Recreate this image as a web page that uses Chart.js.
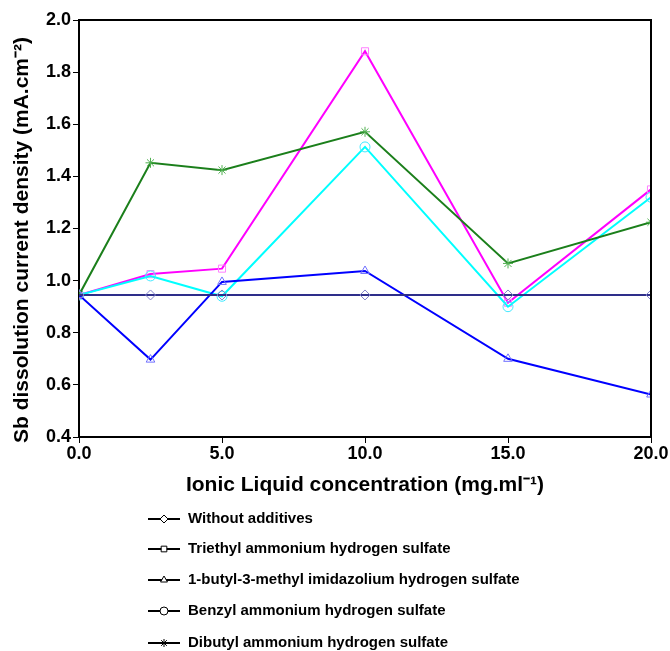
<!DOCTYPE html>
<html>
<head>
<meta charset="utf-8">
<script src="https://cdn.jsdelivr.net/npm/chart.js@4/dist/chart.umd.min.js"></script>
<style>
  html, body { margin: 0; padding: 0; background: #fff; }
  #wrap { width: 670px; height: 651px; position: relative; }
</style>
</head>
<body>
<div id="wrap"><canvas id="c"></canvas></div>
<script>
// concentration of ionic liquid (mg/ml)
const concentrations = [0, 2.5, 5, 10, 15, 20];

const withoutAdditives = [0.945, 0.945, 0.945, 0.945, 0.945, 0.945];
const triethyl = [0.945, 1.025, 1.046, 1.88, 0.915, 1.35];
const bmim = [0.945, 0.697, 0.995, 1.037, 0.70, 0.563];
const benzyl = [0.945, 1.018, 0.94, 1.513, 0.90, 1.32];
const dibutyl = [0.945, 1.452, 1.424, 1.571, 1.066, 1.224];

const seriesLabels = [
    'Without additives',
    'Triethyl ammonium hydrogen sulfate',
    '1-butyl-3-methyl imidazolium hydrogen sulfate',
    'Benzyl ammonium hydrogen sulfate',
    'Dibutyl ammonium hydrogen sulfate'
];
const xTicks = [0, 5, 10, 15, 20];
const yTitle = 'Sb dissolution current density (mA.cm\u207B\u00B2)';
const xTitle = 'Ionic Liquid concentration (mg.ml\u207B\u00B9)';

function pts(values) {
    return values.map((v, i) => ({ x: concentrations[i], y: v }));
}

function makeSet(label, values, line, marker, style, order) {
    return {
        label: label,
        data: pts(values),
        borderColor: line,
        borderWidth: 2,
        pointStyle: style,
        pointRadius: 5,
        pointBorderWidth: 1,
        pointBorderColor: marker,
        pointBackgroundColor: 'rgba(0,0,0,0)',
        tension: 0,
        order: order
    };
}

const datasets = [
    makeSet(seriesLabels[0], withoutAdditives, '#2e2e8a', '#8080c8', 'rectRot', 0),
    makeSet(seriesLabels[1], triethyl, '#ff00ff', '#ff80ff', 'rect', 4),
    makeSet(seriesLabels[2], bmim, '#0000ff', '#7070ff', 'triangle', 1),
    makeSet(seriesLabels[3], benzyl, '#00ffff', '#40e8ff', 'circle', 3),
    makeSet(seriesLabels[4], dibutyl, '#1b7f1b', '#50b050', 'star', 2)
];

// frame on top and right of the plot area, plus the y title
const framePlugin = {
    id: 'frame',
    afterDraw(chart) {
        const { ctx, chartArea: a } = chart;
        ctx.save();
        ctx.strokeStyle = '#000';
        ctx.lineWidth = 2;
        ctx.beginPath();
        ctx.moveTo(a.left, a.top);
        ctx.lineTo(a.right, a.top);
        ctx.lineTo(a.right, a.bottom);
        ctx.stroke();

        ctx.translate(22, 240);
        ctx.rotate(-Math.PI / 2);
        ctx.fillStyle = '#000';
        ctx.font = 'bold 21px "Liberation Sans", Arial, sans-serif';
        ctx.textAlign = 'center';
        ctx.textBaseline = 'middle';
        ctx.fillText(yTitle, 0, 0);
        ctx.restore();
    }
};

// legend listed below the chart, black symbols
const legendPlugin = {
    id: 'blackLegend',
    afterDraw(chart) {
        const ctx = chart.ctx;
        const rows = [519, 549, 580, 611, 643];
        ctx.save();
        chart.data.datasets.forEach((ds, i) => {
            const y = rows[i];
            ctx.strokeStyle = '#000';
            ctx.lineWidth = 2;
            ctx.beginPath();
            ctx.moveTo(148, y);
            ctx.lineTo(180, y);
            ctx.stroke();
            ctx.lineWidth = 1;
            ctx.fillStyle = '#fff';
            Chart.helpers.drawPoint(ctx, {
                pointStyle: ds.pointStyle,
                radius: 4,
                borderWidth: 1,
                rotation: 0
            }, 164, y);
            ctx.fillStyle = '#000';
            ctx.font = 'bold 15px "Liberation Sans", Arial, sans-serif';
            ctx.textBaseline = 'middle';
            ctx.textAlign = 'left';
            ctx.fillText(ds.label, 188, y);
        });
        ctx.restore();
    }
};

Chart.defaults.font.family = '"Liberation Sans", Arial, sans-serif';
Chart.defaults.color = '#000';

new Chart(document.getElementById('c'), {
    type: 'line',
    data: { datasets: datasets },
    options: {
        responsive: true,
        maintainAspectRatio: false,
        animation: false,
        layout: { padding: { top: 20, right: 19, left: 0, bottom: 152 } },
        plugins: {
            legend: { display: false },
            tooltip: { enabled: false }
        },
        scales: {
            x: {
                type: 'linear',
                min: 0,
                max: 20,
                afterBuildTicks(scale) {
                    scale.ticks = xTicks.map(v => ({ value: v }));
                },
                afterFit(scale) { scale.height = 62; },
                ticks: {
                    padding: 0,
                    font: { size: 18, weight: 'bold' },
                    callback: v => v.toFixed(1)
                },
                grid: { drawOnChartArea: false, tickLength: 6, color: '#000' },
                border: { display: true, color: '#000', width: 2 },
                title: {
                    display: true,
                    text: xTitle,
                    font: { size: 21, weight: 'bold' },
                    padding: { top: 0, bottom: 1 }
                }
            },
            y: {
                min: 0.4,
                max: 2.0,
                afterFit(scale) { scale.width = 79; },
                ticks: {
                    stepSize: 0.2,
                    padding: 2,
                    font: { size: 18, weight: 'bold' },
                    callback: v => v.toFixed(1)
                },
                grid: { drawOnChartArea: false, tickLength: 6, color: '#000' },
                border: { display: true, color: '#000', width: 2 },
                title: { display: false }
            }
        }
    },
    plugins: [framePlugin, legendPlugin]
});
</script>
</body>
</html>
